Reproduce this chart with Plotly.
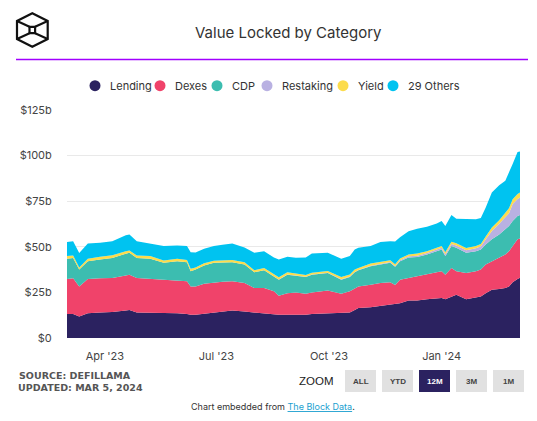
import plotly.graph_objects as go

dates = [
    "2023-03-01", "2023-03-06", "2023-03-11", "2023-03-18", "2023-03-28", "2023-04-07",
    "2023-04-18", "2023-04-21", "2023-04-27", "2023-05-08", "2023-05-19", "2023-05-30",
    "2023-06-07", "2023-06-10", "2023-06-14", "2023-06-21", "2023-06-29", "2023-07-06",
    "2023-07-14", "2023-07-24", "2023-08-01", "2023-08-09", "2023-08-17", "2023-08-21",
    "2023-08-28", "2023-09-04",
    "2023-09-12", "2023-09-17", "2023-09-30", "2023-10-11", "2023-10-18", "2023-10-22",
    "2023-10-25", "2023-11-04", "2023-11-12", "2023-11-20", "2023-11-24", "2023-11-28",
    "2023-12-05",
    "2023-12-12", "2023-12-20", "2023-12-28", "2024-01-01", "2024-01-04", "2024-01-09",
    "2024-01-13", "2024-01-21", "2024-01-29", "2024-02-02", "2024-02-06", "2024-02-11",
    "2024-02-17", "2024-02-22", "2024-02-25", "2024-02-28", "2024-03-03", "2024-03-05",
]

lending = [13.2, 13.2, 11.8, 13.6, 14.0, 14.3, 15.1, 15.4, 14.0, 14.0, 13.6, 13.6,
           13.2, 12.7, 12.7, 13.2, 14.0, 14.5, 15.1, 14.5, 14.0, 13.6, 13.1, 12.7, 12.7, 12.7,
           12.7, 13.2, 13.6, 13.6, 14.0, 15.4, 16.4, 16.9, 17.7, 18.2, 18.5, 19.1, 20.6,
           20.6, 21.3, 21.9, 21.9, 21.3, 22.8, 23.7, 21.3, 22.4, 22.8, 24.5, 26.5, 26.8, 27.4,
           28.3, 30.5, 32.4, 33.0]
dexes = [19.2, 19.5, 16.5, 18.8, 18.7, 18.6, 19.1, 19.3, 18.9, 18.4, 18.0, 17.8,
         17.9, 15.6, 15.6, 16.6, 16.5, 16.3, 16.0, 15.7, 13.4, 13.8, 12.5, 10.5, 11.9, 12.3,
         11.6, 11.8, 12.5, 10.7, 11.6, 12.0, 11.9, 12.3, 12.5, 12.3, 10.5, 12.9, 12.3,
         13.2, 13.4, 13.8, 14.7, 13.4, 15.6, 12.9, 14.4, 14.2, 14.7, 15.8, 15.6, 17.1, 18.4,
         19.3, 20.2, 21.7, 21.5]
cdp = [11.0, 11.2, 9.2, 9.7, 10.3, 11.0, 12.0, 12.0, 11.0, 11.0, 9.6, 10.7,
       10.4, 8.3, 9.2, 9.9, 10.7, 10.6, 10.4, 10.1, 8.6, 9.7, 8.2, 8.8, 10.1, 9.2,
       9.2, 9.7, 9.6, 7.7, 7.9, 8.6, 8.8, 10.1, 10.1, 10.7, 10.0, 10.1, 11.3,
       10.6, 11.1, 11.9, 11.9, 10.2, 12.0, 12.9, 11.0, 11.0, 11.0, 11.0, 12.0, 12.9, 13.8,
       13.8, 13.5, 12.8, 13.0]
restaking = [0, 0, 0, 0, 0, 0, 0, 0, 0, 0, 0, 0,
             0, 0, 0, 0, 0, 0.05, 0.05, 0.05, 0.05, 0.1, 0.1, 0.1, 0.1, 0.1,
             0.1, 0.1, 0.1, 0.2, 0.2, 0.2, 0.2, 0.3, 0.3, 0.4, 0.4, 0.5, 0.6,
             0.7, 0.8, 0.9, 1.0, 1.0, 1.2, 1.2, 1.4, 1.6, 1.8, 2.8, 4.5, 5.8, 6.4,
             7.0, 9.2, 9.3, 9.5]
yield_ = [1.5, 1.3, 1.1, 1.3, 1.5, 1.4, 1.4, 1.3, 1.3, 1.5, 1.3, 1.3,
          1.2, 1.3, 1.1, 1.3, 1.2, 1.2, 1.2, 1.2, 1.1, 1.2, 1.0, 1.2, 1.2, 1.1,
          1.0, 1.0, 0.9, 1.3, 1.1, 1.3, 1.1, 1.2, 0.9, 1.0, 1.0, 1.0, 1.0,
          1.2, 1.0, 1.1, 1.0, 1.1, 1.2, 1.2, 1.2, 1.2, 1.2, 1.6, 2.0, 1.9, 2.4,
          2.8, 2.7, 2.8, 2.8]
others = [7.7, 7.9, 8.0, 8.4, 7.7, 7.8, 8.7, 8.8, 7.9, 6.9, 7.9, 7.3,
          7.7, 9.1, 8.3, 7.9, 8.1, 8.5, 9.0, 8.0, 9.6, 9.2, 9.2, 9.7, 8.5, 8.6,
          9.6, 10.5, 10.1, 9.9, 10.2, 11.0, 11.1, 9.6, 11.1, 10.5, 12.5, 11.6, 12.7,
          13.6, 13.4, 13.2, 13.7, 14.4, 14.6, 13.5, 16.0, 14.7, 14.3, 15.8, 19.2, 19.3, 17.8,
          19.3, 19.3, 23.0, 22.5]

series_names = ["Lending", "Dexes", "CDP", "Restaking", "Yield", "29 Others"]
series_values = [lending, dexes, cdp, restaking, yield_, others]
series_colors = ["#2b2260", "#f0436a", "#3cbdb0", "#b9b1e2", "#fcdc4c", "#00c3f0"]

y_tick_vals = [0, 25, 50, 75, 100, 125]
y_tick_text = ["$0", "$25b", "$50b", "$75b", "$100b", "$125b"]
x_tick_vals = ["2023-04-01", "2023-07-01", "2023-10-01", "2024-01-01"]
x_tick_text = ["Apr '23", "Jul '23", "Oct '23", "Jan '24"]

zoom_buttons = ["ALL", "YTD", "12M", "3M", "1M"]

# The page body has an 8px default margin; the figure is sized and laid out
# in window coordinates minus that offset.
OFF = 8
W, H = 537 - 2 * OFF, 421 - 2 * OFF
PLOT_L, PLOT_R, PLOT_T, PLOT_B = 67, 520, 110, 338  # window px
L, R, T, B = PLOT_L - OFF, W - (PLOT_R - OFF), PLOT_T - OFF, H - (PLOT_B - OFF)
PW, PH = W - L - R, H - T - B


def xp(px):
    return (px - OFF - L) / PW


def yp(py):
    return (H - B - (py - OFF)) / PH


FONT = "Inter, Roboto, sans-serif"
FOOT = "DejaVu Sans, Liberation Sans, Arial"

fig = go.Figure()
for name, vals, col in zip(series_names, series_values, series_colors):
    fig.add_trace(go.Scatter(
        x=dates, y=vals, name=name, stackgroup="one", mode="lines",
        line=dict(width=0, color=col), fillcolor=col, showlegend=False,
        hovertemplate="%{x}<br>" + name + ": $%{y}b<extra></extra>",
    ))

shapes = []
annotations = []

# Logo (cube)
hexpts = [(32.3, 13.3), (47.7, 21.0), (47.7, 39.0), (32.3, 46.7), (17.0, 39.0), (17.0, 21.0)]
path = "M " + " L ".join(f"{xp(x):.5f},{yp(y):.5f}" for x, y in hexpts) + " Z"
shapes.append(dict(type="path", xref="paper", yref="paper", path=path,
                   line=dict(color="#111", width=2.2)))
sq = [(29.5, 26.8), (35.1, 26.8), (35.1, 33.2), (29.5, 33.2)]
path = "M " + " L ".join(f"{xp(x):.5f},{yp(y):.5f}" for x, y in sq) + " Z"
shapes.append(dict(type="path", xref="paper", yref="paper", path=path,
                   line=dict(color="#111", width=2.2)))
for (a, b) in [((17.0, 21.0), sq[0]), ((47.7, 21.0), sq[1]), ((47.7, 39.0), sq[2]), ((17.0, 39.0), sq[3])]:
    shapes.append(dict(type="line", xref="paper", yref="paper",
                       x0=xp(a[0]), y0=yp(a[1]), x1=xp(b[0]), y1=yp(b[1]),
                       line=dict(color="#111", width=2.2)))

# Title and purple rule
annotations.append(dict(text="Value Locked by Category", xref="paper", yref="paper",
                        x=xp(288), y=yp(32), xanchor="center", yanchor="middle",
                        showarrow=False, font=dict(family=FONT, size=15, color="#333")))
shapes.append(dict(type="line", xref="paper", yref="paper", x0=xp(16), x1=xp(528),
                   y0=yp(59.5), y1=yp(59.5), line=dict(color="#a100ff", width=1.5)))

# Legend (manual)
legend_marker_x = [95, 160, 217, 267, 343, 393]
ly = 85.7
r = 5.5
for name, col, mx in zip(series_names, series_colors, legend_marker_x):
    shapes.append(dict(type="circle", xref="paper", yref="paper",
                       x0=xp(mx - r), x1=xp(mx + r), y0=yp(ly + r), y1=yp(ly - r),
                       fillcolor=col, line=dict(width=0)))
    annotations.append(dict(text=name, xref="paper", yref="paper", x=xp(mx + 12.5), y=yp(ly),
                            xanchor="left", yanchor="middle", showarrow=False,
                            font=dict(family=FONT, size=11, color="#333")))

# Footer
annotations.append(dict(text="<b>SOURCE: DEFILLAMA</b>", xref="paper", yref="paper",
                        x=xp(17), y=yp(375), xanchor="left", yanchor="middle", showarrow=False,
                        font=dict(family=FOOT, size=9.5, color="#555")))
annotations.append(dict(text="<b>UPDATED: MAR 5, 2024</b>", xref="paper", yref="paper",
                        x=xp(16), y=yp(387), xanchor="left", yanchor="middle", showarrow=False,
                        font=dict(family=FOOT, size=9.5, color="#555")))
annotations.append(dict(text="ZOOM", xref="paper", yref="paper",
                        x=xp(336), y=yp(381), xanchor="right", yanchor="middle", showarrow=False,
                        font=dict(family="Liberation Sans, Arial", size=11.5, color="#222")))
btn_left = [345, 382, 419, 456, 493]
for lab, bx in zip(zoom_buttons, btn_left):
    active = lab == "12M"
    shapes.append(dict(type="rect", xref="paper", yref="paper",
                       x0=xp(bx), x1=xp(bx + 31), y0=yp(392), y1=yp(370),
                       fillcolor="#2b2260" if active else "#e1e1e1", line=dict(width=0)))
    annotations.append(dict(text=f"<b>{lab}</b>", xref="paper", yref="paper",
                            x=xp(bx + 15.5), y=yp(381.5), xanchor="center", yanchor="middle",
                            showarrow=False,
                            font=dict(family="Liberation Sans, Arial", size=8,
                                      color="#fff" if active else "#444")))
annotations.append(dict(
    text="Chart embedded from <a href='https://www.theblock.co/data' style='color:#1a9fd0'>"
         "<span style='color:#1a9fd0;text-decoration:underline'>The Block Data</span></a>.",
    xref="paper", yref="paper", x=xp(273), y=yp(406), xanchor="center", yanchor="middle",
    showarrow=False, font=dict(family=FONT, size=9, color="#333")))

fig.update_layout(
    width=W, height=H,
    margin=dict(l=L, r=R, t=T, b=B, pad=0),
    paper_bgcolor="white", plot_bgcolor="white",
    showlegend=False,
    shapes=shapes, annotations=annotations,
    xaxis=dict(type="date", range=["2023-03-01", "2024-03-05"], tickvals=x_tick_vals,
               ticktext=x_tick_text, showgrid=False, zeroline=False, showline=False,
               ticks="outside", ticklen=8, tickcolor="rgba(0,0,0,0)",
               tickfont=dict(family=FONT, size=11, color="#444"), fixedrange=True),
    yaxis=dict(range=[0, 125], tickvals=y_tick_vals, ticktext=y_tick_text,
               showgrid=True, gridcolor="#e9e9e9", gridwidth=1, zeroline=False, showline=False,
               ticks="outside", ticklen=12, tickcolor="rgba(0,0,0,0)",
               tickfont=dict(family=FONT, size=11, color="#444"), fixedrange=True),
    font=dict(family=FONT),
)

fig.write_html("out.html")
